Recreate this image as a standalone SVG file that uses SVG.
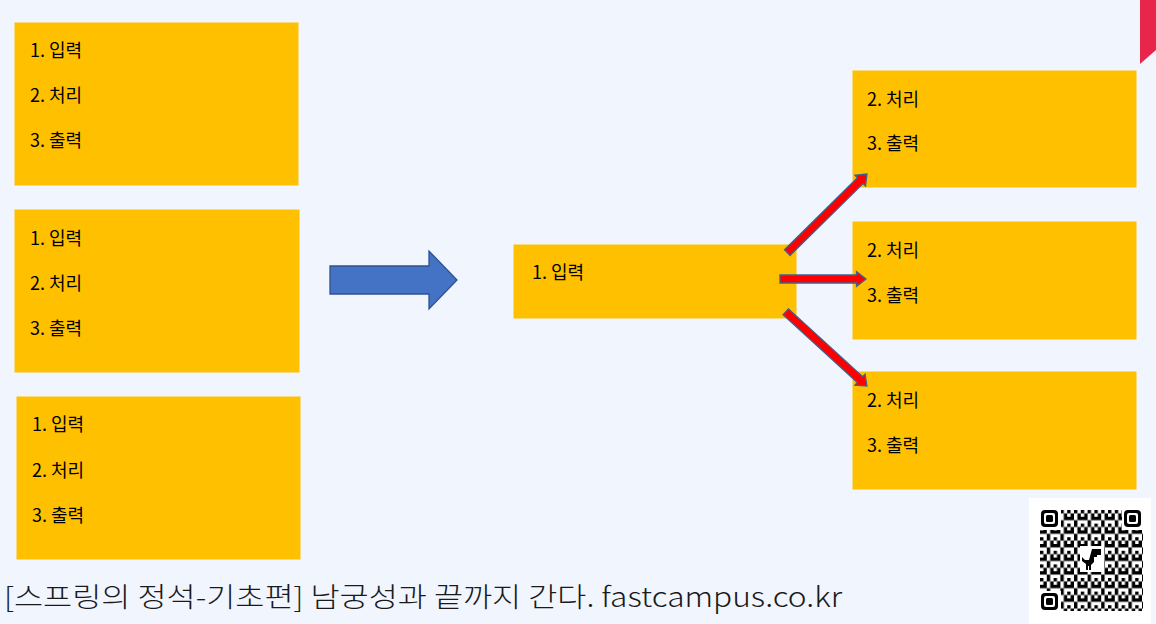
<svg xmlns="http://www.w3.org/2000/svg" width="1156" height="624" viewBox="0 0 1156 624">
<style>
.box{fill:#FFC000;stroke:#FFC000;stroke-width:1}
.t{font-family:"Noto Sans CJK KR","Noto Sans",sans-serif;font-size:18px;fill:#000}
.ra{fill:#FF0000;stroke:#41608F;stroke-width:1.3;stroke-linejoin:miter}
.ba{fill:#4472C4;stroke:#2F528F;stroke-width:1.3}
.fd{fill:#000}
</style>
<defs>
<pattern id="qrp" x="1040" y="510" width="13.6" height="13.6" patternUnits="userSpaceOnUse">
<rect x="0" y="0" width="3.4" height="3.4" fill="#000"/>
<rect x="6.8" y="0" width="3.4" height="3.4" fill="#000"/>
<rect x="3.4" y="3.4" width="3.4" height="3.4" fill="#000"/>
<rect x="10.2" y="3.4" width="3.4" height="3.4" fill="#000"/>
<rect x="0" y="6.8" width="6.8" height="3.4" fill="#000"/>
<rect x="10.2" y="6.8" width="3.4" height="3.4" fill="#000"/>
<rect x="6.8" y="10.2" width="3.4" height="3.4" fill="#000"/>
</pattern>
</defs>
<rect x="0" y="0" width="1156" height="624" fill="#F1F5FE"/>
<polygon points="1140,0 1156,0 1156,50 1140,64" fill="#E8254A"/>

<g id="left1">
<rect class="box" x="15" y="23" width="283" height="162"/>
<text class="t" x="30" y="57">1. 입력</text>
<text class="t" x="30" y="102">2. 처리</text>
<text class="t" x="30" y="147">3. 출력</text>
</g>
<g id="left2">
<rect class="box" x="15" y="210" width="284" height="162"/>
<text class="t" x="30" y="245">1. 입력</text>
<text class="t" x="30" y="290">2. 처리</text>
<text class="t" x="30" y="335">3. 출력</text>
</g>
<g id="left3">
<rect class="box" x="17" y="397" width="283" height="162"/>
<text class="t" x="32" y="431">1. 입력</text>
<text class="t" x="32" y="477">2. 처리</text>
<text class="t" x="32" y="522">3. 출력</text>
</g>
<g id="center">
<rect class="box" x="514" y="245" width="282" height="73"/>
<text class="t" x="532" y="279">1. 입력</text>
</g>
<g id="right1">
<rect class="box" x="853" y="71" width="283" height="116"/>
<text class="t" x="867" y="106">2. 처리</text>
<text class="t" x="867" y="150">3. 출력</text>
</g>
<g id="right2">
<rect class="box" x="853" y="222" width="283" height="117"/>
<text class="t" x="867" y="257">2. 처리</text>
<text class="t" x="867" y="302">3. 출력</text>
</g>
<g id="right3">
<rect class="box" x="853" y="372" width="283" height="117"/>
<text class="t" x="867" y="407">2. 처리</text>
<text class="t" x="867" y="452">3. 출력</text>
</g>

<g id="connectors">
<polygon class="ba" points="330,266 429,266 429,251 457,280 429,309 429,294 330,294"/>
<g transform="translate(866,279)"><polygon class="ra" points="0,0 -9.5,-7.5 -9.5,-4 -86,-4 -86,4 -9.5,4 -9.5,7.5"/></g>
<g transform="translate(867,174) rotate(-44.6)"><polygon class="ra" points="0,0 -9.5,-7.5 -9.5,-4 -112,-4 -112,4 -9.5,4 -9.5,7.5"/></g>
<g transform="translate(867,386) rotate(42.4)"><polygon class="ra" points="0,0 -9.5,-7.5 -9.5,-4 -110,-4 -110,4 -9.5,4 -9.5,7.5"/></g>
</g>

<g id="qr">
<rect x="1029" y="498" width="122" height="126" fill="#FFFFFF"/>
<rect x="1040" y="510" width="103" height="101" fill="url(#qrp)"/>
<rect x="1039" y="508" width="22" height="22" fill="#fff"/>
<rect x="1122" y="508" width="22" height="22" fill="#fff"/>
<rect x="1039" y="591" width="22" height="22" fill="#fff"/>
<rect x="1041" y="510" width="17" height="17" rx="4" class="fd"/>
<rect x="1044" y="513" width="11" height="11" rx="2" fill="#fff"/>
<rect x="1046" y="515" width="7" height="7" rx="1.5" class="fd"/>
<rect x="1124" y="510" width="17" height="17" rx="4" class="fd"/>
<rect x="1127" y="513" width="11" height="11" rx="2" fill="#fff"/>
<rect x="1129" y="515" width="7" height="7" rx="1.5" class="fd"/>
<rect x="1041" y="593" width="17" height="17" rx="4" class="fd"/>
<rect x="1044" y="596" width="11" height="11" rx="2" fill="#fff"/>
<rect x="1046" y="598" width="7" height="7" rx="1.5" class="fd"/>
<rect x="1080" y="546" width="24" height="26" fill="#fff"/>
<path d="M1092,549 h9 v6 h-4 v2 h-3 v5 l-3,3 v5 h-2 v-4 h-1 v4 h-2 v-6 l-4,-3 v-4 l3,3 h4 z" fill="#000"/>
</g>

<text x="4" y="607" font-family="'Noto Sans CJK KR','Noto Sans',sans-serif" font-size="27" font-weight="300" fill="#1a1a1a" textLength="838" lengthAdjust="spacingAndGlyphs">[스프링의 정석-기초편] 남궁성과 끝까지 간다.  fastcampus.co.kr</text>
</svg>
